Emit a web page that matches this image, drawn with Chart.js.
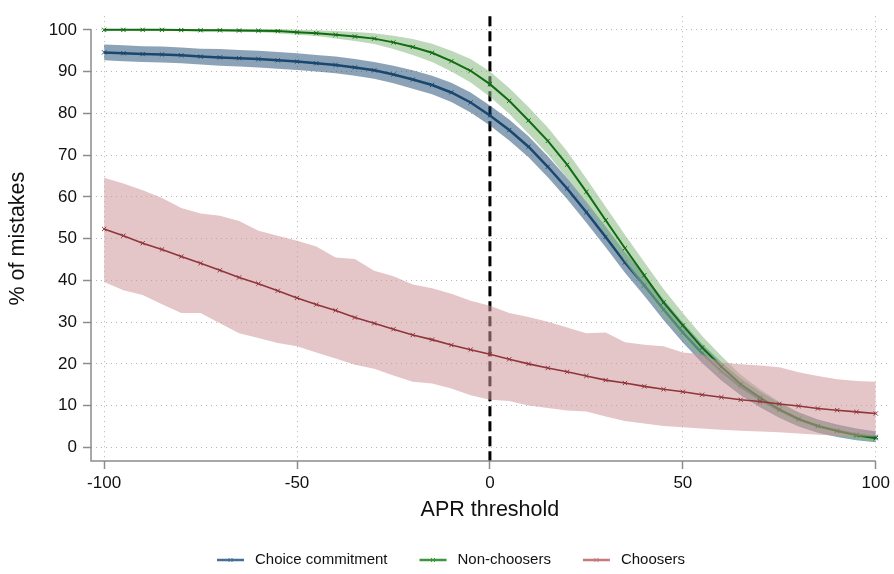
<!DOCTYPE html>
<html>
<head>
  <title>Mistakes by APR threshold</title>
  <script src="https://cdn.jsdelivr.net/npm/chart.js"></script>
  <style>
    body { margin: 0; background: #fff; }
  </style>
</head>
<body>
<canvas id="mistakeChart" width="894" height="574"></canvas>

<script>
  // APR threshold grid (x) and tick labels
  const apr = [-100,-95,-90,-85,-80,-75,-70,-65,-60,-55,-50,-45,-40,-35,-30,-25,-20,-15,-10,-5,0,5,10,15,20,25,30,35,40,45,50,55,60,65,70,75,80,85,90,95,100];
  const xTicks = [-100, -50, 0, 50, 100];
  const yTicks = [0, 10, 20, 30, 40, 50, 60, 70, 80, 90, 100];
  const threshold = 0;

  const seriesNames = ['Choice commitment', 'Non-choosers', 'Choosers'];

  // Choice commitment
  const commitMid = [94.6,94.4,94.2,94.1,93.9,93.6,93.4,93.2,93.0,92.7,92.4,92.0,91.6,91.0,90.3,89.3,88.1,86.8,85.0,82.6,79.5,76.0,72.0,67.2,62.0,56.3,50.4,44.3,38.8,33.0,27.5,22.5,18.2,14.5,11.5,8.9,6.7,5.1,4.0,3.1,2.5];
  const commitHi = [96.5,96.3,96.1,96.0,95.8,95.5,95.4,95.2,95.0,94.7,94.4,94.0,93.6,93.0,92.3,91.4,90.3,89.0,87.3,85.0,81.9,78.5,74.5,69.7,64.5,58.8,52.9,46.8,41.3,35.5,29.9,24.8,20.4,16.5,13.4,10.7,8.4,6.7,5.5,4.5,3.8];
  const commitLo = [92.7,92.5,92.3,92.2,92.0,91.7,91.4,91.2,91.0,90.7,90.4,90.0,89.6,89.0,88.3,87.2,85.9,84.6,82.7,80.2,77.1,73.5,69.5,64.7,59.5,53.8,47.9,41.8,36.3,30.5,25.1,20.2,16.0,12.5,9.6,7.1,5.0,3.5,2.5,1.7,1.2];

  // Non-choosers
  const nonMid = [100.0,100.0,100.0,100.0,99.95,99.9,99.9,99.85,99.8,99.7,99.4,99.2,98.8,98.4,97.9,97.0,95.9,94.5,92.5,90.2,87.0,83.0,78.3,73.4,67.7,61.2,54.4,47.7,41.2,34.7,29.2,23.9,19.3,15.1,11.9,9.1,6.8,5.1,3.9,2.9,2.2];
  const nonHi = [100.2,100.2,100.2,100.2,100.2,100.2,100.2,100.2,100.2,100.2,100.0,99.9,99.7,99.5,99.2,98.6,97.8,96.7,95.0,93.0,90.0,86.1,81.5,76.6,70.9,64.4,57.6,50.9,44.4,37.9,32.2,26.7,21.9,17.4,13.9,10.9,8.3,6.4,5.0,3.9,3.1];
  const nonLo = [99.8,99.8,99.8,99.8,99.7,99.6,99.6,99.5,99.4,99.2,98.8,98.5,97.9,97.3,96.6,95.4,94.0,92.3,90.0,87.4,84.0,79.9,75.1,70.2,64.5,58.0,51.2,44.5,38.0,31.5,26.2,21.1,16.7,12.8,9.9,7.3,5.3,3.8,2.8,1.9,1.3];

  // Choosers
  const chooseMid = [52.3,50.7,48.9,47.4,45.7,44.1,42.4,40.7,39.2,37.5,35.8,34.2,32.8,31.1,29.7,28.3,26.9,25.8,24.5,23.4,22.3,21.1,20.0,19.0,18.1,17.1,16.1,15.4,14.6,13.9,13.3,12.6,12.0,11.4,11.0,10.4,9.9,9.3,8.9,8.5,8.1];
  const chooseHi = [64.6,63.2,61.6,59.7,57.3,56.0,55.5,54.2,51.9,50.7,49.5,48.1,45.5,45.1,42.3,41.0,39.0,38.1,36.8,35.1,33.9,32.2,31.2,30.1,28.7,27.3,27.5,25.2,24.6,24.2,22.7,22.3,20.3,19.9,19.6,19.2,18.0,17.1,16.3,15.9,15.7];
  const chooseLo = [39.6,37.6,36.5,34.3,32.2,32.2,29.7,27.3,26.2,25.0,24.2,22.7,21.3,19.8,18.8,17.2,15.7,15.3,14.1,12.5,11.4,11.1,10.0,9.4,8.8,8.6,7.4,6.3,5.7,5.1,4.8,4.5,4.2,4.0,3.8,3.6,3.3,3.0,2.8,2.6,2.6];

  const lineColors = ['rgb(26,71,111)', 'rgb(16,108,16)', 'rgb(144,53,59)'];
  const bandColors = ['rgba(26,71,111,0.5)', 'rgba(135,185,130,0.55)', 'rgba(205,150,155,0.55)'];
  const legendColors = ['rgb(70,110,150)', 'rgb(60,150,60)', 'rgb(200,120,125)'];
  const FONT = "'Liberation Sans', Arial, sans-serif";

  function pts(arr) {
    return apr.map((x, i) => ({x: x, y: arr[i]}));
  }

  function lineSet(i, arr, width, order) {
    return {
      label: seriesNames[i],
      data: pts(arr),
      borderColor: lineColors[i],
      borderWidth: width,
      pointStyle: 'crossRot',
      pointRadius: 3,
      pointBorderWidth: 1,
      pointBorderColor: lineColors[i],
      fill: false,
      order: order
    };
  }

  function bandSet(arr, fillTarget, color, order) {
    return {
      label: '',
      data: pts(arr),
      borderWidth: 0,
      borderColor: 'rgba(0,0,0,0)',
      backgroundColor: color,
      pointRadius: 0,
      fill: fillTarget === null ? false : {target: fillTarget},
      order: order
    };
  }

  // index: 0-2 lines, 3-8 bands (lo, hi pairs)
  const datasets = [
    lineSet(0, commitMid, 2.5, 8),
    lineSet(1, nonMid, 2, 5),
    lineSet(2, chooseMid, 1.6, 2),
    bandSet(commitLo, null, bandColors[0], 9),
    bandSet(commitHi, 3, bandColors[0], 9),
    bandSet(nonLo, null, bandColors[1], 6),
    bandSet(nonHi, 5, bandColors[1], 6),
    bandSet(chooseLo, null, bandColors[2], 3),
    bandSet(chooseHi, 7, bandColors[2], 3)
  ];

  // dashed threshold line, drawn under the bands
  const thresholdLine = {
    id: 'thresholdLine',
    beforeDatasetsDraw(chart) {
      const {ctx, chartArea, scales} = chart;
      const x = scales.x.getPixelForValue(threshold);
      ctx.save();
      ctx.strokeStyle = '#000';
      ctx.lineWidth = 3;
      ctx.setLineDash([10, 5]);
      ctx.beginPath();
      ctx.moveTo(x, chartArea.top);
      ctx.lineTo(x, chartArea.bottom);
      ctx.stroke();
      ctx.restore();
    }
  };

  // axis lines only across the tick range
  const axisLines = {
    id: 'axisLines',
    afterDraw(chart) {
      const {ctx, chartArea, scales} = chart;
      ctx.save();
      ctx.strokeStyle = '#8c8c8c';
      ctx.lineWidth = 1.5;
      ctx.beginPath();
      ctx.moveTo(chartArea.left, scales.y.getPixelForValue(yTicks[yTicks.length - 1]));
      ctx.lineTo(chartArea.left, chartArea.bottom);
      ctx.lineTo(scales.x.getPixelForValue(xTicks[xTicks.length - 1]), chartArea.bottom);
      ctx.stroke();
      ctx.restore();
    }
  };

  // legend at the bottom
  const bottomLegend = {
    id: 'bottomLegend',
    afterDraw(chart) {
      const ctx = chart.ctx;
      const y = 560;
      let x = 217;
      ctx.save();
      ctx.font = '15px ' + FONT;
      ctx.textBaseline = 'middle';
      seriesNames.forEach((name, i) => {
        ctx.strokeStyle = legendColors[i];
        ctx.lineWidth = 2.5;
        ctx.beginPath();
        ctx.moveTo(x, y);
        ctx.lineTo(x + 27, y);
        ctx.stroke();
        ctx.lineWidth = 1;
        ctx.beginPath();
        ctx.moveTo(x + 11.5, y - 2); ctx.lineTo(x + 15.5, y + 2);
        ctx.moveTo(x + 15.5, y - 2); ctx.lineTo(x + 11.5, y + 2);
        ctx.stroke();
        ctx.fillStyle = '#111';
        ctx.fillText(name, x + 38, y);
        x += 38 + ctx.measureText(name).width + 32;
      });
      ctx.restore();
    }
  };

  const gridOpts = {
    color: '#b4b4b4',
    lineWidth: 1,
    tickLength: 8,
    tickColor: '#8c8c8c',
    tickWidth: 1.5,
    tickBorderDash: []
  };

  new Chart(document.getElementById('mistakeChart'), {
    type: 'line',
    data: { datasets: datasets },
    plugins: [thresholdLine, axisLines, bottomLegend],
    options: {
      responsive: false,
      devicePixelRatio: 1,
      animation: false,
      layout: { padding: { top: 5, right: 4, left: 0, bottom: 48 } },
      plugins: {
        legend: { display: false },
        tooltip: { enabled: false },
        filler: { drawTime: 'beforeDatasetDraw', propagate: false }
      },
      scales: {
        x: {
          type: 'linear',
          min: -103.4,
          max: 103.4,
          afterBuildTicks: s => { s.ticks = xTicks.map(v => ({value: v})); },
          afterFit: s => { s.height = 65; },
          ticks: { autoSkip: false, maxRotation: 0, padding: 4, color: '#111', font: { family: FONT, size: 17 } },
          grid: gridOpts,
          border: { display: false, dash: [1, 4] },
          title: { display: true, text: 'APR threshold', color: '#111', padding: { top: 0, bottom: 3 }, font: { family: FONT, size: 21.5 } }
        },
        y: {
          min: -3.27,
          max: 103.27,
          afterBuildTicks: s => { s.ticks = yTicks.map(v => ({value: v})); },
          afterFit: s => { s.width = 91; },
          ticks: { autoSkip: false, padding: 6, color: '#111', font: { family: FONT, size: 17 } },
          grid: gridOpts,
          border: { display: false, dash: [1, 4] },
          title: { display: true, text: '% of mistakes', color: '#111', padding: { top: 5, bottom: 0 }, font: { family: FONT, size: 21.5 } }
        }
      }
    }
  });
</script>

</body>
</html>
